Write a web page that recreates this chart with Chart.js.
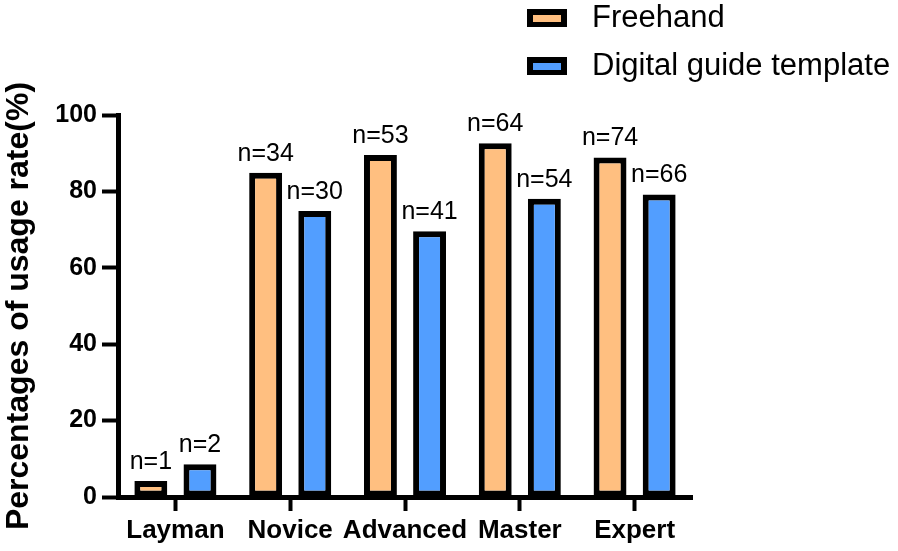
<!DOCTYPE html>
<html>
<head>
<meta charset="utf-8">
<script src="https://cdn.jsdelivr.net/npm/chart.js@4/dist/chart.umd.min.js"></script>
<style>
  html, body { margin: 0; padding: 0; background: #fff; }
  #wrap { width: 898px; height: 551px; }
</style>
</head>
<body>
<div id="wrap"><canvas id="usageChart"></canvas></div>
<script>
// data
const categories = ['Layman', 'Novice', 'Advanced', 'Master', 'Expert'];
const freehand = [4.2, 84.9, 89.5, 92.6, 88.9];
const digitalGuide = [8.6, 74.9, 69.6, 78.1, 79.2];
const freehandN = ['n=1', 'n=34', 'n=53', 'n=64', 'n=74'];
const digitalN = ['n=2', 'n=30', 'n=41', 'n=54', 'n=66'];
const yTicks = [0, 20, 40, 60, 80, 100];

const FONT = "'Liberation Sans', Arial, sans-serif";

// n= labels over each bar
const nLabels = {
  id: 'nLabels',
  afterDatasetsDraw(chart) {
    const ctx = chart.ctx;
    ctx.save();
    ctx.font = '25px ' + FONT;
    ctx.fillStyle = '#000';
    ctx.textAlign = 'center';
    ctx.textBaseline = 'alphabetic';
    chart.data.datasets.forEach((ds, i) => {
      const meta = chart.getDatasetMeta(i);
      meta.data.forEach((bar, j) => {
        ctx.fillText(ds.nLabels[j], bar.x, bar.y - 12);
      });
    });
    ctx.restore();
  }
};

// legend in the top right corner
const sideLegend = {
  id: 'sideLegend',
  afterDraw(chart) {
    const ctx = chart.ctx;
    ctx.save();
    chart.data.datasets.forEach((ds, i) => {
      const cy = 18 + i * 48;
      ctx.fillStyle = '#000';
      ctx.fillRect(527, cy - 9, 40, 18);
      ctx.fillStyle = ds.backgroundColor;
      ctx.fillRect(533, cy - 3, 28, 7);
      ctx.fillStyle = '#000';
      ctx.font = '31px ' + FONT;
      ctx.textBaseline = 'middle';
      ctx.fillText(ds.label, 592, cy);
    });
    ctx.restore();
  }
};

const ctx = document.getElementById('usageChart').getContext('2d');
const chart = new Chart(ctx, {
  type: 'bar',
  data: {
    labels: categories,
    datasets: [{
      label: 'Freehand',
      data: freehand,
      nLabels: freehandN,
      backgroundColor: '#FFBF80',
      borderColor: '#000',
      borderWidth: 6,
      borderSkipped: false
    }, {
      label: 'Digital guide template',
      data: digitalGuide,
      nLabels: digitalN,
      backgroundColor: '#529EFF',
      borderColor: '#000',
      borderWidth: 6,
      borderSkipped: false
    }]
  },
  options: {
    responsive: true,
    maintainAspectRatio: false,
    animation: false,
    layout: { padding: { top: 115, right: 206, left: 0, bottom: 0 } },
    categoryPercentage: 0.856,
    barPercentage: 0.67,
    plugins: {
      legend: { display: false },
      tooltip: { enabled: false }
    },
    scales: {
      x: {
        afterFit(scale) { scale.height = 54; },
        grid: {
          offset: false,
          drawOnChartArea: false,
          drawTicks: true,
          tickLength: 14,
          tickWidth: 4,
          tickColor: '#000'
        },
        border: { display: true, color: '#000', width: 5 },
        ticks: {
          padding: 4,
          maxRotation: 0,
          minRotation: 0,
          autoSkip: false,
          color: '#000',
          font: { family: FONT, size: 26, weight: 'bold' }
        }
      },
      y: {
        min: 0,
        max: 100,
        afterFit(scale) { scale.width = 118; },
        afterBuildTicks(scale) { scale.ticks = yTicks.map(v => ({ value: v })); },
        grid: {
          drawOnChartArea: false,
          drawTicks: true,
          tickLength: 16,
          tickWidth: 4,
          tickColor: '#000'
        },
        border: { display: true, color: '#000', width: 5 },
        ticks: {
          padding: 5,
          color: '#000',
          font: { family: FONT, size: 25, weight: 'bold' }
        },
        title: {
          display: true,
          text: 'Percentages of usage rate(%)',
          color: '#000',
          padding: 0,
          font: { family: FONT, size: 32, weight: 'bold' }
        }
      }
    }
  },
  plugins: [nLabels, sideLegend]
});
</script>
</body>
</html>
